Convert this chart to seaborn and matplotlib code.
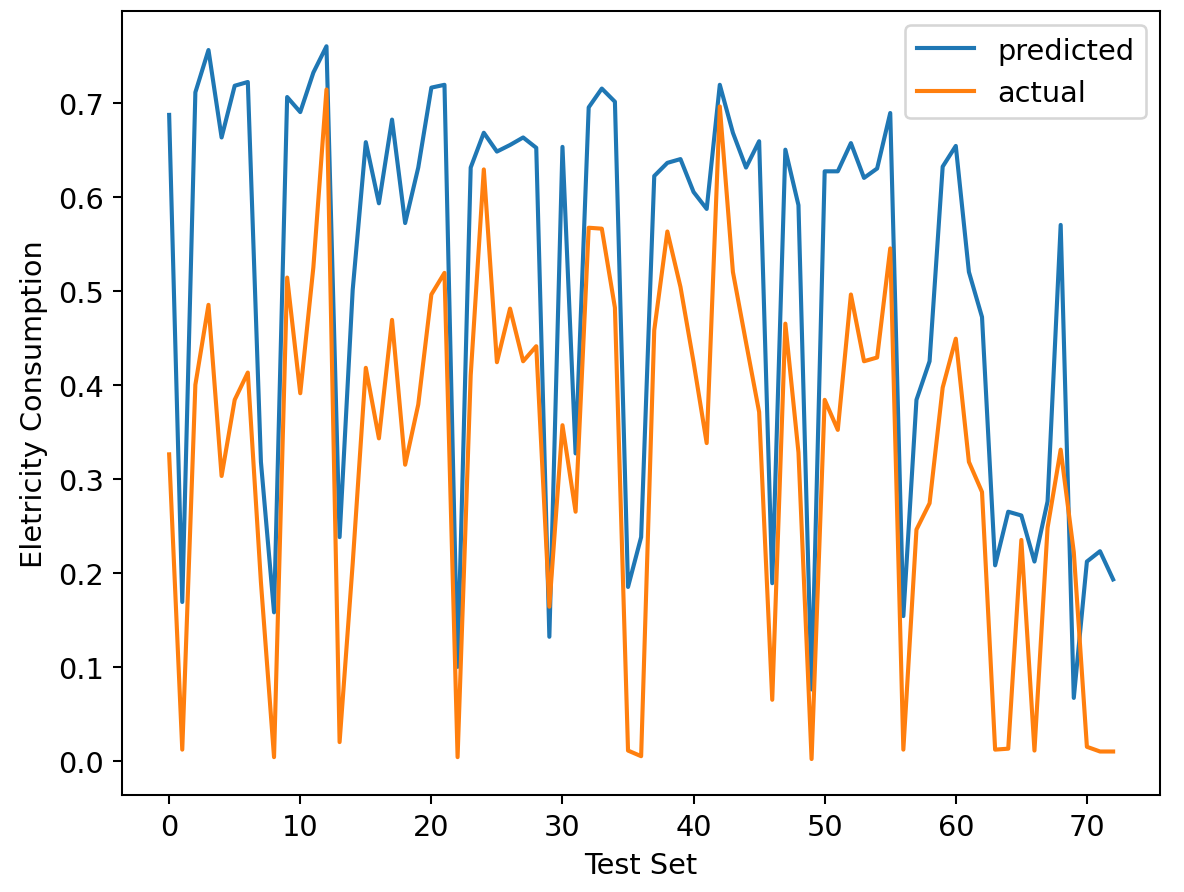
import matplotlib
matplotlib.use("Agg")
import matplotlib.pyplot as plt
import seaborn as sns
import pandas as pd

# values
predicted = [0.687, 0.169, 0.711, 0.756, 0.663, 0.718, 0.722, 0.318, 0.158, 0.706,
             0.690, 0.732, 0.760, 0.238, 0.501, 0.658, 0.593, 0.682, 0.572, 0.631,
             0.716, 0.719, 0.100, 0.631, 0.668, 0.648, 0.655, 0.663, 0.652, 0.132,
             0.653, 0.327, 0.695, 0.715, 0.701, 0.185, 0.238, 0.622, 0.636, 0.640,
             0.605, 0.587, 0.719, 0.668, 0.631, 0.659, 0.189, 0.650, 0.591, 0.076,
             0.627, 0.627, 0.657, 0.620, 0.630, 0.689, 0.154, 0.384, 0.425, 0.632,
             0.654, 0.520, 0.472, 0.208, 0.265, 0.261, 0.212, 0.276, 0.570, 0.067,
             0.212, 0.223, 0.193]
actual = [0.326, 0.012, 0.400, 0.485, 0.303, 0.384, 0.413, 0.190, 0.004, 0.514,
          0.391, 0.525, 0.714, 0.020, 0.210, 0.418, 0.343, 0.469, 0.315, 0.379,
          0.496, 0.519, 0.004, 0.410, 0.629, 0.424, 0.481, 0.425, 0.441, 0.164,
          0.357, 0.265, 0.567, 0.566, 0.482, 0.011, 0.005, 0.458, 0.563, 0.504,
          0.424, 0.338, 0.696, 0.520, 0.445, 0.371, 0.065, 0.465, 0.328, 0.002,
          0.384, 0.352, 0.496, 0.425, 0.429, 0.545, 0.012, 0.246, 0.274, 0.397,
          0.449, 0.318, 0.286, 0.012, 0.013, 0.235, 0.011, 0.248, 0.331, 0.222,
          0.015, 0.010, 0.010]

df = pd.DataFrame({"idx": range(len(predicted)), "predicted": predicted, "actual": actual})

plt.rcParams["font.size"] = 11.2

fig, ax = plt.subplots(figsize=(6.4, 4.827), dpi=185)
fig.subplots_adjust(left=0.103, right=0.980, top=0.987, bottom=0.109)

sns.lineplot(data=df, x="idx", y="predicted", ax=ax, color="#1f77b4", label="predicted", linewidth=1.6)
sns.lineplot(data=df, x="idx", y="actual", ax=ax, color="#ff7f0e", label="actual", linewidth=1.6)

ax.set_xlabel("Test Set")
ax.set_ylabel("Eletricity Consumption")
ax.legend(loc="upper right")

fig.savefig("out.png", dpi=185)
